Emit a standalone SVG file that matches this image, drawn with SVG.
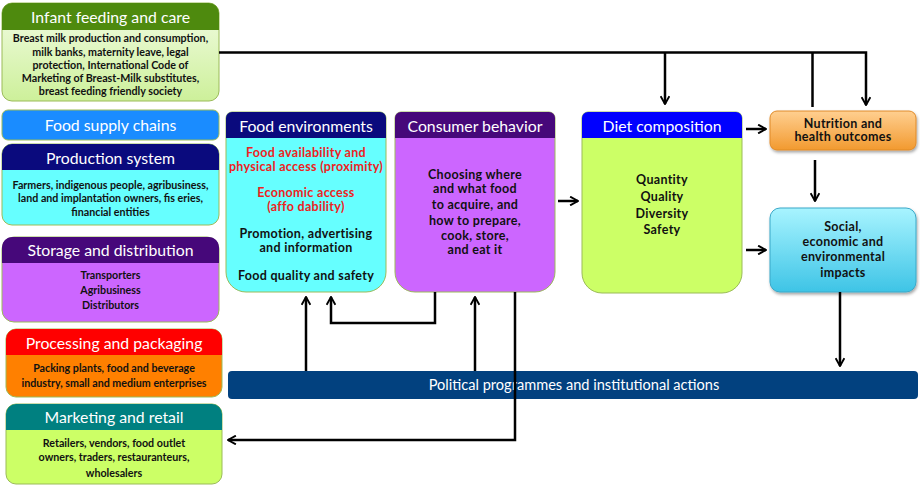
<svg xmlns="http://www.w3.org/2000/svg" width="920" height="486" viewBox="0 0 920 486">
<style>
  .hd { font-family: Lato, "Open Sans", "Liberation Sans", sans-serif; font-size: 15.8px; fill: #ffffff; text-anchor: middle; }
  .sm { font-family: Lato, "Open Sans", "Liberation Sans", sans-serif; font-size: 10.7px; font-weight: bold; fill: #111111; text-anchor: middle; }
  .md { font-family: Lato, "Open Sans", "Liberation Sans", sans-serif; font-size: 12.5px; font-weight: bold; fill: #111111; text-anchor: middle; letter-spacing: 0.3px; }
  .red { fill: #ee2222; }
  .bd { stroke: #9bbb59; stroke-width: 1; }
  .cn { fill: none; stroke: #000000; stroke-width: 2.5; }
</style>
<defs>
  <marker id="ah" viewBox="0 0 12 12" refX="11" refY="6" markerWidth="4.2" markerHeight="4.2" orient="auto" markerUnits="strokeWidth">
    <polyline points="2,1 11,6 2,11" fill="none" stroke="#000" stroke-width="2.2"/>
  </marker>
  <linearGradient id="gInf" x1="0" y1="0" x2="0" y2="1">
    <stop offset="0" stop-color="#f2fce4"/>
    <stop offset="1" stop-color="#cdf09a"/>
  </linearGradient>
  <linearGradient id="gNut" x1="0" y1="0" x2="0" y2="1">
    <stop offset="0" stop-color="#ffcf90"/>
    <stop offset="1" stop-color="#f29a30"/>
  </linearGradient>
  <linearGradient id="gSoc" x1="0" y1="0" x2="0" y2="1">
    <stop offset="0" stop-color="#a8f4ff"/>
    <stop offset="1" stop-color="#3ec4e6"/>
  </linearGradient>
  <filter id="sh" x="-10%" y="-10%" width="130%" height="140%">
    <feDropShadow dx="1" dy="2" stdDeviation="1.5" flood-color="#000" flood-opacity="0.35"/>
  </filter>
</defs>

<g id="infant-feeding">
  <rect x="2" y="3" width="217" height="98" rx="10" fill="url(#gInf)" class="bd"/>
  <path d="M2 30 V13 A10 10 0 0 1 12 3 H209 A10 10 0 0 1 219 13 V30 Z" fill="#4e8a0e"/>
  <text class="hd" x="110.5" y="22.5">Infant feeding and care</text>
  <text class="sm" x="110.5" y="42">Breast milk production and consumption,</text>
  <text class="sm" x="110.5" y="55.5">milk banks, maternity leave, legal</text>
  <text class="sm" x="110.5" y="68.5">protection, International Code of</text>
  <text class="sm" x="110.5" y="81.5">Marketing of Breast-Milk substitutes,</text>
  <text class="sm" x="110.5" y="95">breast feeding friendly society</text>
</g>

<g id="food-supply-chains">
  <rect x="2" y="110" width="217" height="30" rx="6" fill="#1a8cff" class="bd"/>
  <text class="hd" x="110.5" y="130.5">Food supply chains</text>
</g>

<g id="production-system">
  <rect x="2" y="144" width="217" height="81" rx="10" fill="#66ffff" class="bd"/>
  <path d="M2 170 V154 A10 10 0 0 1 12 144 H209 A10 10 0 0 1 219 154 V170 Z" fill="#0a0a7d"/>
  <text class="hd" x="110.5" y="163.5">Production system</text>
  <text class="sm" x="110.5" y="188.5">Farmers, indigenous people, agribusiness,</text>
  <text class="sm" x="110.5" y="201.5">land and implantation owners, fis  eries,</text>
  <text class="sm" x="110.5" y="215.5">financial entities</text>
</g>

<g id="storage-distribution">
  <rect x="2" y="237" width="217" height="85" rx="12" fill="#cc66ff" class="bd"/>
  <path d="M2 263 V247 A10 10 0 0 1 12 237 H209 A10 10 0 0 1 219 247 V263 Z" fill="#46087a"/>
  <text class="hd" x="110.5" y="255.5">Storage and distribution</text>
  <text class="sm" x="110.5" y="278.5">Transporters</text>
  <text class="sm" x="110.5" y="293.5">Agribusiness</text>
  <text class="sm" x="110.5" y="308.5">Distributors</text>
</g>

<g id="processing-packaging">
  <rect x="6" y="329" width="216" height="68" rx="10" fill="#ff8000" class="bd"/>
  <path d="M6 355 V339 A10 10 0 0 1 16 329 H212 A10 10 0 0 1 222 339 V355 Z" fill="#ff0000"/>
  <text class="hd" x="114" y="348.5">Processing and packaging</text>
  <text class="sm" x="114" y="371.5">Packing plants, food and beverage</text>
  <text class="sm" x="114" y="386.5">industry, small and medium enterprises</text>
</g>

<g id="marketing-retail">
  <rect x="6" y="404" width="216" height="80" rx="10" fill="#ccff66" class="bd"/>
  <path d="M6 430 V414 A10 10 0 0 1 16 404 H212 A10 10 0 0 1 222 414 V430 Z" fill="#008080"/>
  <text class="hd" x="114" y="422.5">Marketing and retail</text>
  <text class="sm" x="114" y="446.5">Retailers, vendors, food outlet</text>
  <text class="sm" x="114" y="460.5">owners, traders, restauranteurs,</text>
  <text class="sm" x="114" y="476.5">wholesalers</text>
</g>

<g id="food-environments">
  <path d="M232 112 H380 A6 6 0 0 1 386 118 V272 A20 20 0 0 1 366 292 H246 A20 20 0 0 1 226 272 V118 A6 6 0 0 1 232 112 Z" fill="#66ffff" class="bd"/>
  <path d="M226 138 V118 A6 6 0 0 1 232 112 H380 A6 6 0 0 1 386 118 V138 Z" fill="#0a0a7d"/>
  <text class="hd" x="306" y="131.5">Food environments</text>
  <text class="md red" x="306" y="157">Food availability and</text>
  <text class="md red" x="306" y="170.5">physical access (proximity)</text>
  <text class="md red" x="306" y="196.5">Economic access</text>
  <text class="md red" x="306" y="211">(affo dability)</text>
  <text class="md" x="306" y="237.5">Promotion, advertising</text>
  <text class="md" x="306" y="252">and information</text>
  <text class="md" x="306" y="280">Food quality and safety</text>
</g>

<g id="consumer-behavior">
  <path d="M401 112 H549 A6 6 0 0 1 555 118 V272 A20 20 0 0 1 535 292 H415 A20 20 0 0 1 395 272 V118 A6 6 0 0 1 401 112 Z" fill="#cc66ff" class="bd"/>
  <path d="M395 138 V118 A6 6 0 0 1 401 112 H549 A6 6 0 0 1 555 118 V138 Z" fill="#46087a"/>
  <text class="hd" x="475" y="131.5">Consumer behavior</text>
  <text class="md" x="475" y="179">Choosing where</text>
  <text class="md" x="475" y="193">and what food</text>
  <text class="md" x="475" y="209">to acquire, and</text>
  <text class="md" x="475" y="225">how to prepare,</text>
  <text class="md" x="475" y="240">cook, store,</text>
  <text class="md" x="475" y="254">and eat it</text>
</g>

<g id="diet-composition">
  <path d="M588 112 H736 A6 6 0 0 1 742 118 V273 A20 20 0 0 1 722 293 H602 A20 20 0 0 1 582 273 V118 A6 6 0 0 1 588 112 Z" fill="#ccff66" class="bd"/>
  <path d="M582 138 V118 A6 6 0 0 1 588 112 H736 A6 6 0 0 1 742 118 V138 Z" fill="#0000ff"/>
  <text class="hd" x="662" y="131.5">Diet composition</text>
  <text class="md" x="662" y="183.5">Quantity</text>
  <text class="md" x="662" y="200.5">Quality</text>
  <text class="md" x="662" y="217.5">Diversity</text>
  <text class="md" x="662" y="234">Safety</text>
</g>

<g id="nutrition-health">
  <rect x="770" y="111" width="146" height="39" rx="7" fill="url(#gNut)" stroke="#e08a28" stroke-width="1" filter="url(#sh)"/>
  <text class="md" x="843" y="127.5">Nutrition and</text>
  <text class="md" x="843" y="141">health outcomes</text>
</g>

<g id="social-impacts">
  <rect x="770" y="208" width="146" height="84" rx="10" fill="url(#gSoc)" stroke="#3aa8c8" stroke-width="1" filter="url(#sh)"/>
  <text class="md" x="843" y="231">Social,</text>
  <text class="md" x="843" y="246">economic and</text>
  <text class="md" x="843" y="261">environmental</text>
  <text class="md" x="843" y="276.5">impacts</text>
</g>

<g id="political-programmes">
  <rect x="228" y="371" width="690" height="28" rx="4" fill="#02417f"/>
  <text x="574" y="390" font-family="Lato, 'Open Sans', 'Liberation Sans', sans-serif" font-size="14.6" fill="#ffffff" text-anchor="middle">Political programmes and institutional actions</text>
</g>

<g id="connectors">
  <polyline class="cn" points="219,52.5 866,52.5 866,105" marker-end="url(#ah)"/>
  <line class="cn" x1="665" y1="52.5" x2="665" y2="104" marker-end="url(#ah)"/>
  <line class="cn" x1="812.5" y1="52.5" x2="812.5" y2="107"/>
  <line class="cn" x1="746" y1="129" x2="766" y2="129" marker-end="url(#ah)"/>
  <line class="cn" x1="746" y1="250" x2="766" y2="250" marker-end="url(#ah)"/>
  <line class="cn" x1="558" y1="201" x2="578" y2="201" marker-end="url(#ah)"/>
  <line class="cn" x1="815" y1="160" x2="815" y2="201" marker-end="url(#ah)"/>
  <line class="cn" x1="840" y1="292" x2="840" y2="366" marker-end="url(#ah)"/>
  <line class="cn" x1="306" y1="371" x2="306" y2="297" marker-end="url(#ah)"/>
  <polyline class="cn" points="435,292 435,323 331,323 331,297" marker-end="url(#ah)"/>
  <line class="cn" x1="475" y1="371" x2="475" y2="297" marker-end="url(#ah)"/>
  <polyline class="cn" points="515,292 515,440 228,440" marker-end="url(#ah)"/>
</g>
</svg>
